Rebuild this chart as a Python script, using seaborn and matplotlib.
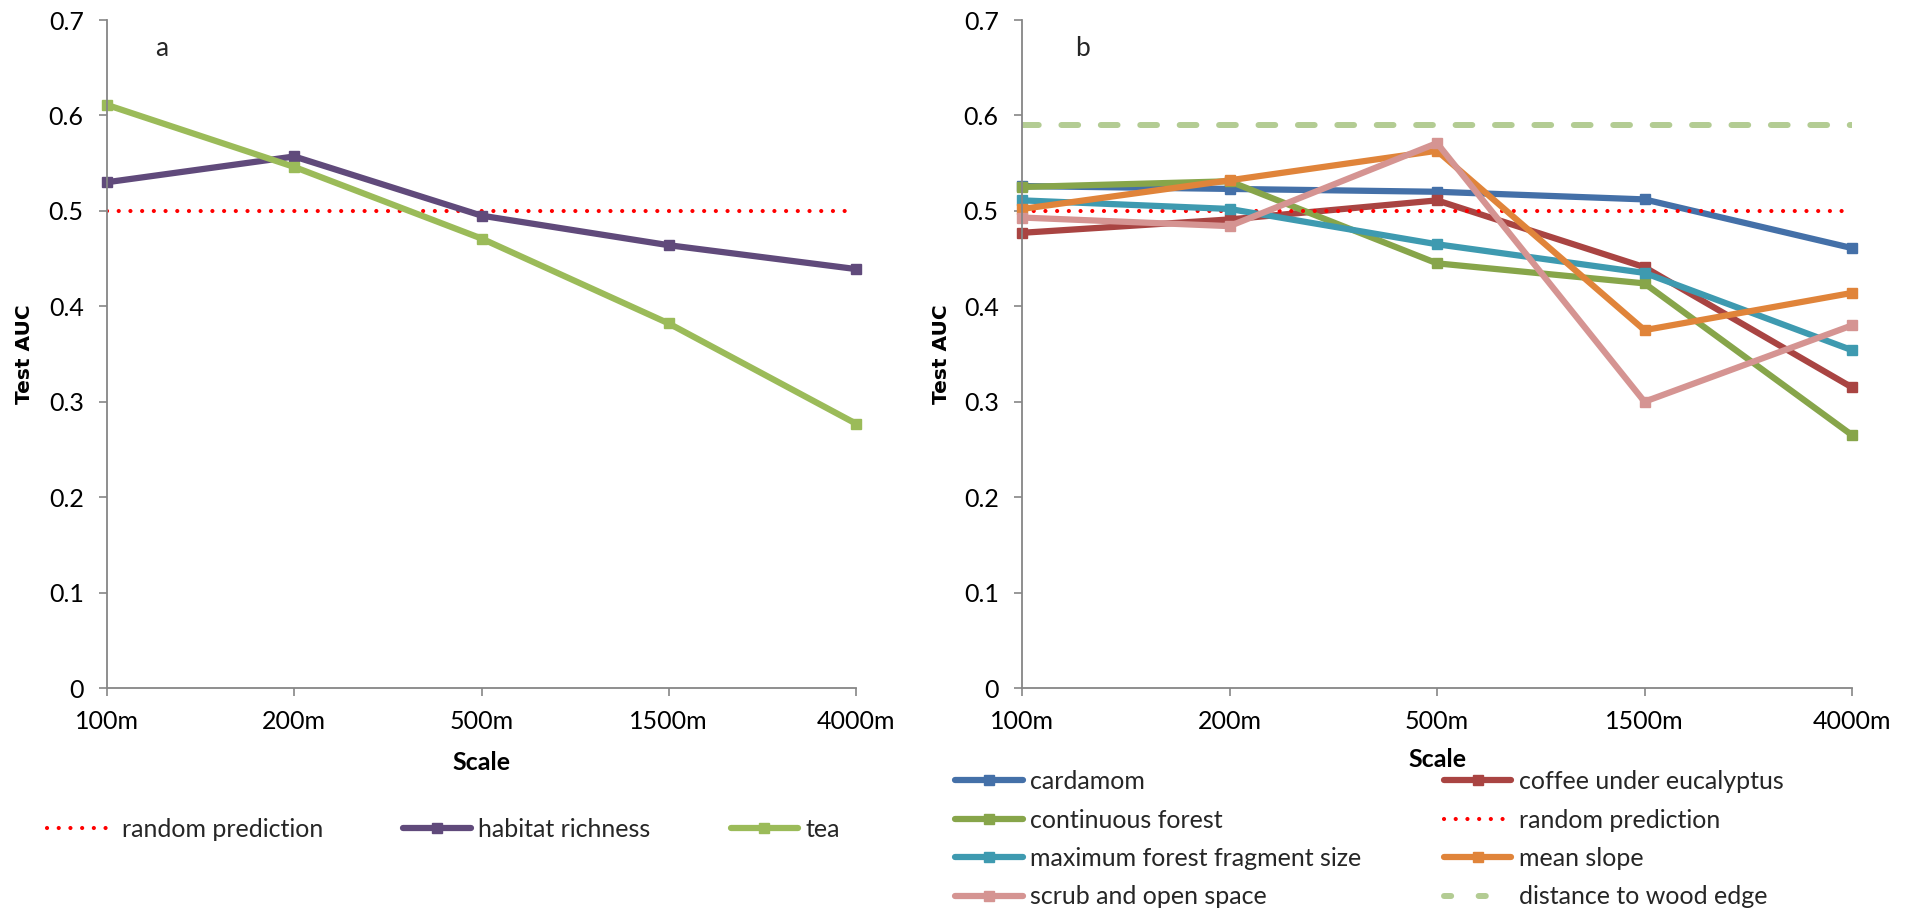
import matplotlib
matplotlib.use("Agg")
import matplotlib.pyplot as plt
from matplotlib.lines import Line2D
import seaborn as sns

# ---- data -------------------------------------------------------------
scales = ["100m", "200m", "500m", "1500m", "4000m"]

habitat_richness = [0.530, 0.557, 0.495, 0.464, 0.439]
tea = [0.611, 0.546, 0.471, 0.382, 0.277]

cardamom = [0.526, 0.523, 0.520, 0.512, 0.461]
coffee_under_eucalyptus = [0.477, 0.491, 0.511, 0.441, 0.315]
continuous_forest = [0.525, 0.531, 0.445, 0.424, 0.265]
max_fragment_size = [0.511, 0.502, 0.465, 0.435, 0.354]
mean_slope = [0.502, 0.532, 0.563, 0.375, 0.414]
scrub_open_space = [0.493, 0.484, 0.571, 0.300, 0.380]

random_prediction = 0.5
distance_to_wood_edge = 0.59

y_ticks = [0, 0.1, 0.2, 0.3, 0.4, 0.5, 0.6, 0.7]

# ---- style ------------------------------------------------------------
sns.set_theme(style="white")
plt.rcParams["font.family"] = ["Lato", "DejaVu Sans"]

TXT = 18
AXIS_GREY = "#868686"
LW = 4.5
MS = 7.5

fig = plt.figure(figsize=(19.1, 9.1), dpi=100)
W, H = 1910, 910


def px_axes(left, right, top, bottom):
    return fig.add_axes([left / W, 1 - bottom / H, (right - left) / W, (bottom - top) / H])


ax_a = px_axes(107, 856, 20, 688)
ax_b = px_axes(1022, 1852, 20, 688)


def series(ax, values, color, label):
    sns.lineplot(x=scales, y=values, ax=ax, color=color, linewidth=LW,
                 marker="s", markersize=MS, markeredgecolor=color,
                 markeredgewidth=1, sort=False, clip_on=False, label=label,
                 legend=False)


def dotted_ref(ax, y):
    ax.axhline(y, color="#FF0000", linewidth=3.0, linestyle=(0, (0.01, 2.8)),
               dash_capstyle="round", zorder=2)


def style_axes(ax, letter):
    ax.set_xlim(0, 4)
    ax.set_ylim(0, 0.7)
    ax.set_yticks(y_ticks)
    ax.set_yticklabels(["0" if t == 0 else f"{t:.1f}" for t in y_ticks])
    ax.set_xticks(range(len(scales)))
    ax.set_xticklabels(scales)
    for side in ("top", "right"):
        ax.spines[side].set_visible(False)
    for side in ("left", "bottom"):
        ax.spines[side].set_color(AXIS_GREY)
        ax.spines[side].set_linewidth(1.3)
    ax.tick_params(axis="both", which="major", direction="out", length=5.8,
                   width=1.2, color=AXIS_GREY, labelsize=TXT, labelcolor="black",
                   left=True, bottom=True)
    ax.tick_params(axis="y", pad=11)
    ax.tick_params(axis="x", pad=10)
    ax.set_ylabel("Test AUC", fontsize=14.5, fontweight="bold",
                  family=["DejaVu Sans"], color="black")
    ax.set_xlabel("Scale", fontsize=TXT, fontweight="bold", color="black")
    ax.xaxis.label.set_va("center")
    ax.grid(False)
    ax.text(0.073, 0.958, letter, transform=ax.transAxes, fontsize=TXT + 1,
            ha="center", va="center")


# ---- panel a ----------------------------------------------------------
dotted_ref(ax_a, random_prediction)
series(ax_a, habitat_richness, "#604A7B", "habitat richness")
series(ax_a, tea, "#9BBB59", "tea")
style_axes(ax_a, "a")
ax_a.yaxis.set_label_coords(-0.098, 0.5)
ax_a.xaxis.set_label_coords(0.5, -0.112)

# ---- panel b ----------------------------------------------------------
c_card, c_coffee, c_cont = "#4470A8", "#A94442", "#87A54A"
c_frag, c_slope, c_scrub = "#3E9AB0", "#E0843A", "#D59492"
c_edge = "#B3CC93"

series(ax_b, cardamom, c_card, "cardamom")
series(ax_b, coffee_under_eucalyptus, c_coffee, "coffee under eucalyptus")
series(ax_b, continuous_forest, c_cont, "continuous forest")
dotted_ref(ax_b, random_prediction)
series(ax_b, max_fragment_size, c_frag, "maximum forest fragment size")
series(ax_b, mean_slope, c_slope, "mean slope")
series(ax_b, scrub_open_space, c_scrub, "scrub and open space")
ax_b.axhline(distance_to_wood_edge, color=c_edge, linewidth=4.3,
             linestyle=(0, (2.8, 3.8)), dash_capstyle="round", zorder=2)
style_axes(ax_b, "b")
ax_b.yaxis.set_label_coords(-0.086, 0.5)
ax_b.xaxis.set_label_coords(0.5, -0.107)

# ---- legends ----------------------------------------------------------
def h_line(color):
    return Line2D([], [], color=color, linewidth=LW, marker="s", markersize=MS,
                  markeredgecolor=color)


def h_dotted():
    return Line2D([], [], color="#FF0000", linewidth=3.0,
                  linestyle=(0, (0.01, 2.8)), dash_capstyle="round")


def h_dashed():
    return Line2D([], [], color=c_edge, linewidth=4.3,
                  linestyle=(0, (1.2, 4.6)), dash_capstyle="round")


leg_kw = dict(frameon=False, fontsize=TXT, borderpad=0, borderaxespad=0,
              handlelength=2.7, handletextpad=0.3, loc="upper left")

fig.legend([h_dotted(), h_line("#604A7B"), h_line("#9BBB59")],
           ["random prediction", "habitat richness", "tea"],
           ncol=3, columnspacing=3.2,
           bbox_to_anchor=(47 / W, 1 - 818 / H), **leg_kw)

fig.legend([h_line(c_card), h_line(c_cont), h_line(c_frag), h_line(c_scrub),
            h_line(c_coffee), h_dotted(), h_line(c_slope), h_dashed()],
           ["cardamom", "continuous forest", "maximum forest fragment size",
            "scrub and open space", "coffee under eucalyptus",
            "random prediction", "mean slope", "distance to wood edge"],
           ncol=2, columnspacing=3.3, labelspacing=0.62,
           bbox_to_anchor=(955 / W, 1 - 770 / H), **leg_kw)

fig.savefig("out.png", dpi=100, facecolor="white")
